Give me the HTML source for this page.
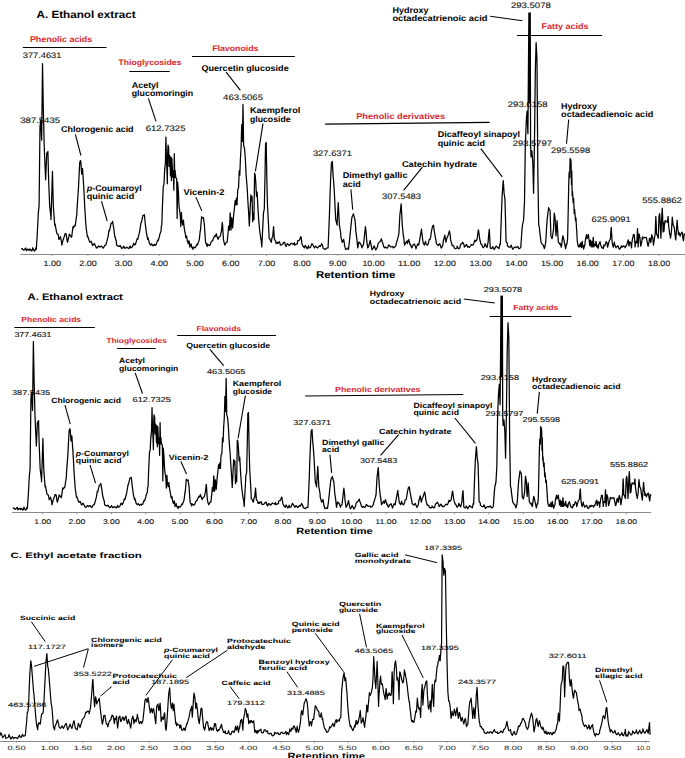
<!DOCTYPE html>
<html><head><meta charset="utf-8"><style>
html,body{margin:0;padding:0;background:#fff;}
svg{display:block;}
text{font-family:"Liberation Sans",sans-serif;text-rendering:geometricPrecision;}
</style></head><body>
<svg width="685" height="758" viewBox="0 0 685 758">
<rect width="685" height="758" fill="#fff"/>
<text x="36.50" y="17.60" font-size="10.4" font-weight="bold" fill="#000" textLength="99.10" lengthAdjust="spacingAndGlyphs">A. Ethanol extract</text>
<text x="29.90" y="42.20" font-size="8.2" font-weight="bold" fill="#dd1f2e" textLength="62.30" lengthAdjust="spacingAndGlyphs">Phenolic acids</text>
<line x1="22.80" y1="47.50" x2="106.50" y2="47.50" stroke="#000" stroke-width="1.0"/>
<text x="118.50" y="65.40" font-size="7.9" font-weight="bold" fill="#dd1f2e" textLength="62.80" lengthAdjust="spacingAndGlyphs">Thioglycosides</text>
<line x1="129.40" y1="71.50" x2="169.80" y2="71.50" stroke="#000" stroke-width="1.0"/>
<text x="212.20" y="51.30" font-size="8.0" font-weight="bold" fill="#dd1f2e" textLength="46.30" lengthAdjust="spacingAndGlyphs">Flavonoids</text>
<line x1="192.00" y1="56.50" x2="294.90" y2="56.50" stroke="#000" stroke-width="1.0"/>
<text x="356.20" y="119.30" font-size="8.2" font-weight="bold" fill="#dd1f2e" textLength="88.90" lengthAdjust="spacingAndGlyphs">Phenolic derivatives</text>
<line x1="325.10" y1="124.10" x2="489.60" y2="122.40" stroke="#000" stroke-width="1.1"/>
<text x="541.50" y="28.50" font-size="8.2" font-weight="bold" fill="#dd1f2e" textLength="47.00" lengthAdjust="spacingAndGlyphs">Fatty acids</text>
<line x1="517.00" y1="35.50" x2="602.10" y2="35.50" stroke="#000" stroke-width="1.0"/>
<text x="22.80" y="58.40" font-size="8.0" font-weight="normal" fill="#111" stroke="#111" stroke-width="0.1" textLength="38.60" lengthAdjust="spacingAndGlyphs">377.4631</text>
<text x="20.30" y="122.90" font-size="8.0" font-weight="normal" fill="#111" stroke="#111" stroke-width="0.1" textLength="39.70" lengthAdjust="spacingAndGlyphs">387.5435</text>
<text x="145.70" y="131.30" font-size="8.0" font-weight="normal" fill="#111" stroke="#111" stroke-width="0.1" textLength="39.80" lengthAdjust="spacingAndGlyphs">612.7325</text>
<text x="223.10" y="99.90" font-size="8.0" font-weight="normal" fill="#111" stroke="#111" stroke-width="0.1" textLength="39.90" lengthAdjust="spacingAndGlyphs">463.5065</text>
<text x="312.90" y="155.90" font-size="8.0" font-weight="normal" fill="#111" stroke="#111" stroke-width="0.1" textLength="39.10" lengthAdjust="spacingAndGlyphs">327.6371</text>
<text x="382.10" y="198.70" font-size="8.0" font-weight="normal" fill="#111" stroke="#111" stroke-width="0.1" textLength="38.90" lengthAdjust="spacingAndGlyphs">307.5483</text>
<text x="510.90" y="7.90" font-size="8.0" font-weight="normal" fill="#111" stroke="#111" stroke-width="0.1" textLength="39.90" lengthAdjust="spacingAndGlyphs">293.5078</text>
<text x="507.80" y="106.80" font-size="8.0" font-weight="normal" fill="#111" stroke="#111" stroke-width="0.1" textLength="39.80" lengthAdjust="spacingAndGlyphs">293.6158</text>
<text x="512.70" y="146.20" font-size="8.0" font-weight="normal" fill="#111" stroke="#111" stroke-width="0.1" textLength="39.40" lengthAdjust="spacingAndGlyphs">293.5797</text>
<text x="551.10" y="152.90" font-size="8.0" font-weight="normal" fill="#111" stroke="#111" stroke-width="0.1" textLength="39.10" lengthAdjust="spacingAndGlyphs">295.5598</text>
<text x="591.40" y="221.60" font-size="8.0" font-weight="normal" fill="#111" stroke="#111" stroke-width="0.1" textLength="39.40" lengthAdjust="spacingAndGlyphs">625.9091</text>
<text x="642.20" y="203.20" font-size="8.0" font-weight="normal" fill="#111" stroke="#111" stroke-width="0.1" textLength="39.70" lengthAdjust="spacingAndGlyphs">555.8862</text>
<text x="131.70" y="87.80" font-size="8.4" font-weight="bold" fill="#000" textLength="26.90" lengthAdjust="spacingAndGlyphs">Acetyl</text>
<text x="131.70" y="96.30" font-size="8.4" font-weight="bold" fill="#000" textLength="61.50" lengthAdjust="spacingAndGlyphs">glucomoringin</text>
<text x="201.40" y="71.10" font-size="8.4" font-weight="bold" fill="#000" textLength="87.30" lengthAdjust="spacingAndGlyphs">Quercetin glucoside</text>
<text x="249.90" y="113.00" font-size="8.4" font-weight="bold" fill="#000" textLength="50.40" lengthAdjust="spacingAndGlyphs">Kaempferol</text>
<text x="249.90" y="121.60" font-size="8.4" font-weight="bold" fill="#000" textLength="40.80" lengthAdjust="spacingAndGlyphs">glucoside</text>
<text x="61.10" y="131.80" font-size="8.4" font-weight="bold" fill="#000" textLength="72.50" lengthAdjust="spacingAndGlyphs">Chlorogenic acid</text>
<text x="183.40" y="194.80" font-size="8.4" font-weight="bold" fill="#000" textLength="41.10" lengthAdjust="spacingAndGlyphs">Vicenin-2</text>
<text x="342.70" y="178.10" font-size="8.4" font-weight="bold" fill="#000" textLength="64.80" lengthAdjust="spacingAndGlyphs">Dimethyl gallic</text>
<text x="342.70" y="186.50" font-size="8.4" font-weight="bold" fill="#000" textLength="18.00" lengthAdjust="spacingAndGlyphs">acid</text>
<text x="401.90" y="166.60" font-size="8.4" font-weight="bold" fill="#000" textLength="75.30" lengthAdjust="spacingAndGlyphs">Catechin hydrate</text>
<text x="437.80" y="137.30" font-size="8.4" font-weight="bold" fill="#000" textLength="82.20" lengthAdjust="spacingAndGlyphs">Dicaffeoyl sinapoyl</text>
<text x="437.80" y="145.70" font-size="8.4" font-weight="bold" fill="#000" textLength="47.30" lengthAdjust="spacingAndGlyphs">quinic acid</text>
<text x="392.40" y="13.10" font-size="8.4" font-weight="bold" fill="#000" textLength="36.00" lengthAdjust="spacingAndGlyphs">Hydroxy</text>
<text x="392.40" y="21.30" font-size="8.4" font-weight="bold" fill="#000" textLength="95.10" lengthAdjust="spacingAndGlyphs">octadecatrienoic acid</text>
<text x="561.10" y="108.50" font-size="8.4" font-weight="bold" fill="#000" textLength="35.90" lengthAdjust="spacingAndGlyphs">Hydroxy</text>
<text x="561.10" y="116.80" font-size="8.4" font-weight="bold" fill="#000" textLength="92.20" lengthAdjust="spacingAndGlyphs">octadecadienoic acid</text>
<text x="86.70" y="199.10" font-size="8.4" font-weight="bold" fill="#000" textLength="47.50" lengthAdjust="spacingAndGlyphs">quinic acid</text>
<text x="86.70" y="191.20" font-size="8.4" font-weight="bold" fill="#000" textLength="55.10" lengthAdjust="spacingAndGlyphs"><tspan font-style="italic">p</tspan>-Coumaroyl</text>
<line x1="148.40" y1="98.40" x2="156.00" y2="121.40" stroke="#000" stroke-width="1.1"/>
<line x1="226.10" y1="72.20" x2="240.40" y2="90.40" stroke="#000" stroke-width="1.1"/>
<line x1="263.00" y1="123.60" x2="255.40" y2="171.30" stroke="#000" stroke-width="1.1"/>
<line x1="75.40" y1="134.30" x2="80.90" y2="155.50" stroke="#000" stroke-width="1.1"/>
<line x1="101.50" y1="201.10" x2="107.20" y2="221.00" stroke="#000" stroke-width="1.1"/>
<line x1="195.90" y1="197.10" x2="201.80" y2="210.90" stroke="#000" stroke-width="1.1"/>
<line x1="350.90" y1="189.40" x2="352.70" y2="209.60" stroke="#000" stroke-width="1.1"/>
<line x1="422.40" y1="167.20" x2="403.60" y2="190.30" stroke="#000" stroke-width="1.1"/>
<line x1="480.80" y1="148.60" x2="502.30" y2="176.80" stroke="#000" stroke-width="1.1"/>
<line x1="490.10" y1="16.30" x2="522.40" y2="20.70" stroke="#000" stroke-width="1.1"/>
<line x1="568.70" y1="119.50" x2="566.50" y2="143.70" stroke="#000" stroke-width="1.1"/>
<line x1="20.50" y1="254.50" x2="685.00" y2="254.50" stroke="#8a8a8a" stroke-width="1.0"/>
<line x1="52.20" y1="254.00" x2="52.20" y2="255.80" stroke="#7a7a7a" stroke-width="0.8"/>
<text x="43.45" y="266.30" font-size="7.7" font-weight="normal" fill="#111" stroke="#111" stroke-width="0.1" textLength="17.50" lengthAdjust="spacingAndGlyphs">1.00</text>
<line x1="87.90" y1="254.00" x2="87.90" y2="255.80" stroke="#7a7a7a" stroke-width="0.8"/>
<text x="79.15" y="266.30" font-size="7.7" font-weight="normal" fill="#111" stroke="#111" stroke-width="0.1" textLength="17.50" lengthAdjust="spacingAndGlyphs">2.00</text>
<line x1="123.60" y1="254.00" x2="123.60" y2="255.80" stroke="#7a7a7a" stroke-width="0.8"/>
<text x="114.85" y="266.30" font-size="7.7" font-weight="normal" fill="#111" stroke="#111" stroke-width="0.1" textLength="17.50" lengthAdjust="spacingAndGlyphs">3.00</text>
<line x1="159.30" y1="254.00" x2="159.30" y2="255.80" stroke="#7a7a7a" stroke-width="0.8"/>
<text x="150.55" y="266.30" font-size="7.7" font-weight="normal" fill="#111" stroke="#111" stroke-width="0.1" textLength="17.50" lengthAdjust="spacingAndGlyphs">4.00</text>
<line x1="195.00" y1="254.00" x2="195.00" y2="255.80" stroke="#7a7a7a" stroke-width="0.8"/>
<text x="186.25" y="266.30" font-size="7.7" font-weight="normal" fill="#111" stroke="#111" stroke-width="0.1" textLength="17.50" lengthAdjust="spacingAndGlyphs">5.00</text>
<line x1="230.70" y1="254.00" x2="230.70" y2="255.80" stroke="#7a7a7a" stroke-width="0.8"/>
<text x="221.95" y="266.30" font-size="7.7" font-weight="normal" fill="#111" stroke="#111" stroke-width="0.1" textLength="17.50" lengthAdjust="spacingAndGlyphs">6.00</text>
<line x1="266.40" y1="254.00" x2="266.40" y2="255.80" stroke="#7a7a7a" stroke-width="0.8"/>
<text x="257.65" y="266.30" font-size="7.7" font-weight="normal" fill="#111" stroke="#111" stroke-width="0.1" textLength="17.50" lengthAdjust="spacingAndGlyphs">7.00</text>
<line x1="302.10" y1="254.00" x2="302.10" y2="255.80" stroke="#7a7a7a" stroke-width="0.8"/>
<text x="293.35" y="266.30" font-size="7.7" font-weight="normal" fill="#111" stroke="#111" stroke-width="0.1" textLength="17.50" lengthAdjust="spacingAndGlyphs">8.00</text>
<line x1="337.80" y1="254.00" x2="337.80" y2="255.80" stroke="#7a7a7a" stroke-width="0.8"/>
<text x="329.05" y="266.30" font-size="7.7" font-weight="normal" fill="#111" stroke="#111" stroke-width="0.1" textLength="17.50" lengthAdjust="spacingAndGlyphs">9.00</text>
<line x1="373.50" y1="254.00" x2="373.50" y2="255.80" stroke="#7a7a7a" stroke-width="0.8"/>
<text x="362.40" y="266.30" font-size="7.7" font-weight="normal" fill="#111" stroke="#111" stroke-width="0.1" textLength="22.20" lengthAdjust="spacingAndGlyphs">10.00</text>
<line x1="409.20" y1="254.00" x2="409.20" y2="255.80" stroke="#7a7a7a" stroke-width="0.8"/>
<text x="398.10" y="266.30" font-size="7.7" font-weight="normal" fill="#111" stroke="#111" stroke-width="0.1" textLength="22.20" lengthAdjust="spacingAndGlyphs">11.00</text>
<line x1="444.90" y1="254.00" x2="444.90" y2="255.80" stroke="#7a7a7a" stroke-width="0.8"/>
<text x="433.80" y="266.30" font-size="7.7" font-weight="normal" fill="#111" stroke="#111" stroke-width="0.1" textLength="22.20" lengthAdjust="spacingAndGlyphs">12.00</text>
<line x1="480.60" y1="254.00" x2="480.60" y2="255.80" stroke="#7a7a7a" stroke-width="0.8"/>
<text x="469.50" y="266.30" font-size="7.7" font-weight="normal" fill="#111" stroke="#111" stroke-width="0.1" textLength="22.20" lengthAdjust="spacingAndGlyphs">13.00</text>
<line x1="516.30" y1="254.00" x2="516.30" y2="255.80" stroke="#7a7a7a" stroke-width="0.8"/>
<text x="505.20" y="266.30" font-size="7.7" font-weight="normal" fill="#111" stroke="#111" stroke-width="0.1" textLength="22.20" lengthAdjust="spacingAndGlyphs">14.00</text>
<line x1="552.00" y1="254.00" x2="552.00" y2="255.80" stroke="#7a7a7a" stroke-width="0.8"/>
<text x="540.90" y="266.30" font-size="7.7" font-weight="normal" fill="#111" stroke="#111" stroke-width="0.1" textLength="22.20" lengthAdjust="spacingAndGlyphs">15.00</text>
<line x1="587.70" y1="254.00" x2="587.70" y2="255.80" stroke="#7a7a7a" stroke-width="0.8"/>
<text x="576.60" y="266.30" font-size="7.7" font-weight="normal" fill="#111" stroke="#111" stroke-width="0.1" textLength="22.20" lengthAdjust="spacingAndGlyphs">16.00</text>
<line x1="623.40" y1="254.00" x2="623.40" y2="255.80" stroke="#7a7a7a" stroke-width="0.8"/>
<text x="612.30" y="266.30" font-size="7.7" font-weight="normal" fill="#111" stroke="#111" stroke-width="0.1" textLength="22.20" lengthAdjust="spacingAndGlyphs">17.00</text>
<line x1="659.10" y1="254.00" x2="659.10" y2="255.80" stroke="#7a7a7a" stroke-width="0.8"/>
<text x="648.00" y="266.30" font-size="7.7" font-weight="normal" fill="#111" stroke="#111" stroke-width="0.1" textLength="22.20" lengthAdjust="spacingAndGlyphs">18.00</text>
<text x="316.00" y="277.60" font-size="10.0" font-weight="bold" fill="#000" textLength="79.30" lengthAdjust="spacingAndGlyphs">Retention time</text>
<polyline points="21.24,249.33 22.14,248.53 23.51,250.18 23.97,250.10 24.93,248.76 25.85,248.10 26.35,250.74 27.33,249.57 27.77,249.04 29.18,250.46 29.38,249.13 30.60,249.33 30.99,250.76 32.02,250.74 32.77,247.76 33.44,249.61 34.55,251.17 34.86,250.74 36.10,247.54 36.28,249.33 37.13,236.56 38.16,216.43 38.26,213.87 39.11,205.35 39.96,128.76 40.14,125.01 40.82,120.25 41.62,139.85 41.67,140.11 42.52,63.51 43.37,111.74 43.49,115.21 44.22,145.78 44.95,164.20 45.64,179.82 46.73,153.12 46.77,154.29 47.91,151.45 48.48,174.15 48.80,183.90 49.61,205.35 50.91,216.85 51.03,219.54 52.45,171.31 52.92,190.80 53.30,205.35 54.72,225.21 55.04,223.94 56.55,232.22 56.99,233.72 58.14,234.37 58.97,239.40 59.90,238.21 60.39,236.56 61.55,241.84 61.81,245.07 63.23,239.40 63.27,239.68 65.13,233.73 66.06,233.72 67.22,241.40 67.48,242.23 68.90,236.56 69.33,234.13 71.49,237.27 71.74,236.56 73.04,226.29 73.16,228.05 75.14,225.21 75.18,225.92 76.84,213.87 77.03,208.80 78.26,191.17 78.62,184.90 79.68,162.80 80.47,160.58 80.82,161.38 81.67,174.15 81.96,173.10 82.52,168.48 83.65,185.50 84.11,193.84 84.79,208.19 85.92,225.21 86.13,227.28 87.34,236.56 87.68,235.98 89.67,242.13 90.18,242.23 91.14,241.28 92.61,245.42 93.01,245.07 94.29,243.44 96.44,247.88 97.27,247.91 98.60,245.96 100.09,247.13 100.11,246.49 101.55,246.17 102.94,247.91 103.29,248.20 104.84,245.29 105.78,245.07 106.91,241.18 108.05,236.56 109.04,230.10 109.47,230.89 110.75,224.97 110.89,223.79 112.30,222.38 112.56,221.42 113.72,228.05 114.43,233.95 114.86,236.56 116.32,241.25 116.56,245.07 118.12,246.17 119.96,246.49 120.08,245.42 121.74,248.40 122.80,247.91 123.55,246.13 125.00,248.34 126.86,247.24 127.84,247.91 128.74,248.57 130.23,245.96 130.67,247.91 132.00,247.29 132.94,245.64 133.70,243.31 134.93,245.07 135.67,243.62 137.15,238.58 137.77,239.40 139.28,233.16 139.75,230.89 141.05,222.51 141.45,222.38 142.72,216.41 142.87,215.28 144.29,215.28 144.39,214.73 145.43,225.21 146.26,231.76 146.56,233.72 147.70,239.40 147.97,237.69 149.43,243.46 150.53,245.07 151.40,243.79 153.00,245.91 153.37,245.07 154.61,244.38 155.00,245.51 156.36,244.20 156.58,243.13 157.88,239.89 158.16,240.76 159.56,236.07 159.75,234.43 161.01,231.27 161.31,226.45 161.80,224.94 162.44,205.95 162.87,195.81 163.23,186.96 164.02,183.80 164.78,167.58 164.81,169.56 165.44,161.65 165.92,137.12 166.39,158.48 166.55,161.80 166.87,167.97 167.34,183.80 167.66,153.73 168.07,145.07 168.13,145.82 168.61,147.41 169.08,166.39 169.56,155.32 169.65,157.42 170.03,161.65 170.51,175.89 170.98,156.90 171.46,180.63 171.69,168.46 171.93,158.48 172.41,169.56 172.88,177.47 173.34,172.24 173.35,171.14 173.83,190.13 174.30,153.73 174.78,177.47 175.24,170.55 175.25,172.72 175.89,177.47 176.68,179.05 176.93,199.94 177.15,218.61 177.63,182.22 178.26,190.13 178.58,195.23 178.73,201.20 179.21,207.53 179.84,212.28 180.21,215.11 180.32,215.44 180.79,226.52 181.42,212.28 181.90,221.77 181.95,220.47 182.69,224.94 183.48,220.19 183.69,223.21 184.27,228.10 185.06,232.85 185.24,233.26 185.85,237.59 186.65,236.01 187.36,241.21 187.44,240.76 188.23,243.92 189.02,240.76 189.51,243.14 189.81,247.09 191.08,243.92 191.63,246.89 192.18,247.88 193.09,249.33 193.23,246.98 195.28,247.83 197.09,244.09 197.34,245.07 198.77,241.21 199.33,239.40 200.26,230.50 200.46,230.89 201.60,216.70 201.91,217.87 203.01,218.12 203.38,217.44 204.43,225.21 205.32,239.52 205.57,242.23 207.27,246.49 207.41,243.90 209.26,245.51 210.11,245.07 211.24,241.81 212.90,240.19 212.94,239.40 214.71,235.69 215.21,236.56 216.35,233.72 216.83,235.97 218.05,239.40 218.52,237.57 220.04,236.56 220.58,234.90 221.45,230.89 222.30,222.38 222.58,225.12 223.44,239.40 224.16,242.84 224.86,245.07 226.19,242.42 227.13,242.23 228.20,231.56 228.63,225.87 229.48,230.09 230.11,213.21 230.22,213.02 230.96,230.09 231.67,220.10 231.80,217.43 232.64,227.98 233.49,217.43 233.73,214.31 234.33,208.98 235.18,200.54 235.36,202.05 235.81,204.76 236.44,198.43 237.08,204.76 237.18,200.80 237.71,189.99 238.55,187.88 238.96,177.83 239.19,170.99 239.82,175.21 240.40,158.94 240.45,158.32 241.09,147.77 241.72,124.55 241.93,130.39 242.35,141.44 242.99,104.50 243.42,130.21 243.62,145.66 244.46,147.77 245.31,158.32 245.48,161.81 246.15,175.21 247.00,185.77 247.28,189.42 247.84,200.54 248.69,213.21 248.95,218.79 249.32,225.87 249.95,213.21 250.80,196.32 250.85,194.83 251.43,200.54 252.06,196.32 252.55,216.08 252.70,221.65 253.33,213.21 253.96,219.54 254.23,199.15 254.60,173.10 255.23,175.21 255.86,183.65 256.07,188.53 256.50,196.32 257.13,192.10 257.78,204.37 257.97,208.98 258.82,221.65 259.35,227.37 259.66,230.09 260.72,238.54 261.23,240.33 261.77,246.98 262.62,230.09 262.94,224.48 263.46,213.21 264.31,208.98 264.83,183.05 264.94,179.43 265.57,143.55 266.21,142.49 266.54,162.33 266.84,179.43 267.47,204.76 268.11,217.43 268.48,223.46 269.16,238.54 270.18,239.40 270.42,240.49 271.31,242.23 272.04,237.57 272.73,236.56 273.58,226.63 273.98,232.68 274.43,239.40 275.73,241.11 276.13,243.65 277.55,242.23 277.80,243.46 279.51,241.67 280.39,245.07 281.52,244.78 283.23,243.65 283.29,242.70 284.65,242.23 285.32,244.95 286.06,246.49 287.40,243.53 288.90,245.07 289.32,245.63 291.16,243.09 291.74,243.65 293.03,244.30 294.57,242.81 294.57,245.07 296.04,244.43 297.41,243.65 297.55,240.91 299.12,240.47 299.68,239.40 300.82,236.56 301.17,237.88 301.95,243.65 303.22,246.47 304.50,247.91 305.26,245.28 307.11,248.75 308.58,245.67 308.76,247.91 310.39,247.57 311.91,243.61 313.01,245.07 314.02,247.14 314.43,247.91 315.69,246.09 317.27,247.91 317.73,247.93 319.30,245.74 320.11,246.49 321.18,245.13 321.52,243.65 322.90,246.39 322.94,247.91 324.63,249.12 325.78,249.33 326.37,248.15 328.05,247.91 328.17,246.00 329.47,213.87 329.91,198.44 330.60,179.82 331.45,162.80 331.46,163.51 332.30,161.38 333.16,176.99 333.45,178.60 334.29,191.17 335.26,211.09 335.71,219.54 337.13,225.21 337.16,221.97 338.26,202.52 338.71,211.60 339.40,225.21 340.69,233.00 340.82,236.56 342.23,242.23 342.50,242.16 343.65,239.40 344.46,243.76 344.50,245.07 345.64,249.33 346.09,249.54 347.95,248.04 348.48,249.33 349.56,240.27 349.89,236.56 351.69,219.10 352.09,216.70 353.51,213.87 353.64,214.80 354.93,219.54 355.69,227.84 355.78,230.89 356.91,239.40 357.32,243.71 357.77,247.91 358.78,242.22 359.18,242.23 360.50,243.73 360.60,243.65 362.02,247.91 362.19,246.25 363.44,245.07 364.19,238.23 365.43,226.63 366.35,235.35 366.56,239.40 367.70,247.91 368.22,247.35 369.11,245.07 370.26,240.43 370.53,242.23 371.95,249.33 372.10,249.68 373.37,247.91 374.06,245.82 375.79,249.89 376.21,249.33 377.62,246.49 377.92,244.00 379.04,242.23 379.52,242.00 380.46,240.82 381.48,238.77 381.88,240.82 383.30,245.07 383.61,246.59 384.72,247.91 385.22,246.88 386.85,248.10 387.55,247.91 388.80,244.85 390.39,246.49 390.89,247.00 392.95,246.48 393.23,247.91 394.69,247.21 396.06,245.07 396.20,243.72 397.48,239.40 398.24,236.69 398.90,233.72 399.93,213.82 400.04,213.87 401.17,203.94 401.86,216.86 402.30,225.21 403.44,236.56 403.54,235.77 404.57,245.07 405.33,243.78 405.99,242.23 407.19,240.80 407.41,243.65 408.83,239.40 408.91,240.30 410.25,245.07 410.44,244.24 411.67,247.91 412.36,246.64 413.09,245.07 414.44,243.88 415.92,247.91 415.95,248.87 417.66,243.92 418.76,245.07 419.64,240.09 420.18,236.56 421.57,229.00 421.60,230.89 423.01,242.23 423.59,243.66 424.43,245.07 425.57,241.28 425.85,243.65 427.27,245.07 427.50,245.18 428.69,242.23 429.02,239.91 430.11,239.40 430.71,236.53 431.52,230.89 432.64,225.88 433.51,225.21 434.21,230.55 435.21,236.56 436.10,241.13 436.35,243.65 438.18,245.49 438.62,245.07 439.71,243.58 441.26,248.06 441.45,247.91 442.87,245.07 443.21,241.48 444.86,235.14 445.05,237.04 445.99,242.23 446.82,238.18 447.70,236.56 448.39,234.32 449.40,230.89 450.35,235.79 450.53,239.40 452.18,245.66 452.23,245.07 453.88,246.23 454.22,247.91 455.59,248.82 457.06,247.91 457.06,246.22 458.68,248.72 459.89,247.91 460.37,245.14 461.31,243.65 462.10,243.43 462.73,242.23 464.10,245.06 464.36,247.23 466.15,244.80 466.35,244.40 467.77,247.23 467.79,246.39 469.31,247.28 470.60,245.82 471.27,244.46 472.85,245.13 473.44,244.40 474.82,240.08 475.43,241.56 476.80,239.89 477.13,238.72 478.35,229.95 478.55,230.21 479.68,238.72 479.93,240.25 481.10,244.40 481.77,244.47 482.80,247.23 483.39,247.63 484.79,245.82 484.86,243.55 486.77,247.23 486.94,247.57 488.19,241.56 488.65,234.80 489.33,229.36 490.18,247.23 490.51,248.18 491.88,248.65 492.66,246.58 494.31,249.56 494.72,248.65 496.10,246.07 497.55,247.23 498.06,247.75 498.97,248.65 500.06,243.37 500.39,244.40 501.24,218.87 501.85,203.09 502.09,196.17 503.23,180.57 503.62,185.50 504.08,193.33 504.93,199.01 505.45,217.14 505.50,218.87 506.06,241.56 507.25,243.12 507.48,245.82 509.01,247.17 510.32,247.23 511.14,245.14 512.67,249.24 513.16,248.65 514.56,247.21 515.99,247.23 516.26,247.61 517.76,246.36 518.83,248.65 519.87,248.25 520.82,247.23 521.93,230.23 522.52,224.54 523.47,220.67 523.65,218.87 524.50,201.84 525.34,143.23 525.35,145.11 526.21,122.41 527.06,111.06 527.30,118.32 527.91,133.76 528.90,12.91 528.99,25.73 529.41,102.55 529.78,20.28 530.23,12.91 530.60,145.11 531.03,156.45 531.10,156.90 531.88,150.78 532.73,162.13 532.85,164.38 533.58,193.33 534.43,145.11 534.64,127.80 535.28,74.18 536.11,42.73 536.13,42.70 536.99,60.00 537.70,154.95 537.84,173.48 538.69,224.54 539.49,227.82 539.54,230.21 540.96,241.56 541.32,242.73 542.38,244.40 543.23,244.96 544.36,248.65 545.00,246.24 545.78,241.56 546.73,225.31 547.20,218.87 548.62,207.52 548.82,208.68 550.04,210.35 550.52,223.61 550.89,235.89 552.02,238.72 552.35,237.41 553.44,230.21 553.95,219.44 554.29,213.19 555.14,218.87 555.54,227.59 555.99,235.89 557.08,220.70 557.13,221.70 558.26,241.56 558.66,242.44 559.96,244.40 560.22,243.44 561.38,247.23 561.78,244.05 562.80,235.89 563.30,236.91 564.22,241.56 565.10,246.01 565.64,248.65 566.55,243.90 566.93,244.18 567.62,238.64 568.29,207.26 568.31,205.40 568.73,184.63 569.14,172.16 569.70,177.70 569.76,173.03 570.11,158.31 570.53,163.85 570.80,159.70 571.08,162.47 571.49,184.31 571.50,184.63 571.77,170.78 572.19,195.71 572.47,191.55 573.16,202.63 573.57,198.48 573.62,198.51 574.27,213.71 574.68,209.56 575.13,216.07 575.51,220.64 575.93,217.87 576.62,230.33 576.69,229.52 577.31,241.41 578.01,245.57 578.38,246.45 578.70,246.95 579.39,245.57 579.86,244.34 580.08,246.95 580.78,242.80 581.47,246.95 581.50,247.56 582.16,241.41 582.85,246.95 583.27,245.62 583.55,249.03 584.24,246.95 584.93,244.46 584.93,244.18 585.62,238.64 586.32,235.87 586.56,234.50 587.01,238.64 587.70,237.26 588.39,234.49 588.45,235.32 589.09,240.03 589.78,245.57 589.96,242.06 590.47,240.03 591.16,246.95 591.86,241.41 592.10,243.96 592.55,246.95 593.24,237.26 593.54,240.74 593.93,246.95 594.63,244.18 595.04,245.20 595.32,245.57 596.01,241.41 596.51,244.67 596.70,246.95 597.40,245.57 598.09,248.34 598.42,247.28 598.78,244.18 600.01,241.66 600.46,244.40 601.79,247.90 601.88,247.23 603.30,248.65 603.89,244.86 604.72,245.82 605.36,244.22 606.13,241.56 607.23,243.33 607.55,247.23 608.74,242.81 608.97,241.56 610.39,238.72 610.79,232.56 611.24,227.38 612.09,241.56 612.51,243.99 613.23,247.23 614.44,242.23 614.65,244.40 616.00,247.89 616.06,247.23 617.97,245.80 618.90,248.65 619.81,249.17 621.51,245.85 621.74,247.23 623.12,246.67 623.16,245.82 624.90,246.49 625.00,247.79 626.31,245.17 626.46,245.62 627.19,243.42 628.06,240.35 628.34,240.02 628.94,246.04 629.82,241.66 630.06,242.42 630.69,242.54 631.57,247.79 631.61,245.24 632.44,239.04 633.07,236.41 633.32,234.66 634.19,234.66 635.05,244.63 635.07,246.92 635.95,241.66 636.56,242.53 636.82,242.54 637.52,228.53 638.13,246.92 638.61,237.81 639.01,233.78 639.89,237.29 640.68,246.17 640.76,246.04 641.64,242.54 642.45,236.79 642.51,239.04 643.39,238.16 644.26,237.29 644.41,237.69 645.58,237.72 646.12,237.21 646.45,238.16 647.33,242.54 647.85,245.62 648.20,246.04 649.08,241.66 649.36,238.71 649.96,238.16 650.83,242.54 650.88,242.16 651.71,234.66 652.58,237.29 652.79,238.02 653.46,245.17 654.27,239.68 654.33,239.04 655.21,233.78 655.82,216.27 656.17,223.08 656.52,233.78 657.40,235.53 657.62,236.43 658.27,238.16 658.98,216.27 659.59,213.64 659.75,214.88 660.03,219.77 660.46,229.40 660.90,238.16 661.34,225.03 661.60,220.27 661.78,216.27 662.22,208.39 662.65,216.27 663.09,232.03 663.53,223.27 663.60,222.69 663.97,231.16 664.40,225.03 665.11,220.65 665.61,221.93 665.72,221.52 666.59,221.09 667.19,220.97 667.47,222.40 668.08,216.27 668.68,226.14 668.78,226.78 669.66,233.78 670.20,235.83 670.53,238.16 671.41,232.03 672.29,217.15 672.34,217.84 673.16,225.03 674.04,226.78 674.42,229.05 674.91,233.78 675.79,239.91 676.20,234.01 676.49,229.40 677.10,220.21 677.80,229.40 678.23,231.19 678.42,234.66 679.29,232.91 680.14,236.24 680.17,235.53 681.04,233.78 681.92,232.03 682.20,232.39 682.79,237.29 683.49,240.79 684.08,234.57 684.11,233.78 685.07,234.66" fill="none" stroke="#000" stroke-width="1.25" stroke-linejoin="round"/>
<text x="27.58" y="300.22" font-size="9.35" font-weight="bold" fill="#000" textLength="95.29" lengthAdjust="spacingAndGlyphs">A. Ethanol extract</text>
<text x="21.23" y="322.34" font-size="7.37" font-weight="bold" fill="#dd1f2e" textLength="59.91" lengthAdjust="spacingAndGlyphs">Phenolic acids</text>
<line x1="14.40" y1="327.50" x2="94.89" y2="327.50" stroke="#000" stroke-width="1.0"/>
<text x="106.43" y="343.19" font-size="7.1" font-weight="bold" fill="#dd1f2e" textLength="60.39" lengthAdjust="spacingAndGlyphs">Thioglycosides</text>
<line x1="116.91" y1="348.50" x2="155.76" y2="348.50" stroke="#000" stroke-width="1.0"/>
<text x="196.53" y="330.52" font-size="7.19" font-weight="bold" fill="#dd1f2e" textLength="44.52" lengthAdjust="spacingAndGlyphs">Flavonoids</text>
<line x1="177.11" y1="335.50" x2="276.06" y2="335.50" stroke="#000" stroke-width="1.0"/>
<text x="335.00" y="391.65" font-size="7.37" font-weight="bold" fill="#dd1f2e" textLength="85.49" lengthAdjust="spacingAndGlyphs">Phenolic derivatives</text>
<line x1="305.10" y1="395.97" x2="463.28" y2="394.44" stroke="#000" stroke-width="1.1"/>
<text x="513.19" y="310.02" font-size="7.37" font-weight="bold" fill="#dd1f2e" textLength="45.20" lengthAdjust="spacingAndGlyphs">Fatty acids</text>
<line x1="489.63" y1="316.50" x2="571.46" y2="316.50" stroke="#000" stroke-width="1.0"/>
<text x="14.40" y="336.90" font-size="7.19" font-weight="normal" fill="#111" stroke="#111" stroke-width="0.1" textLength="37.12" lengthAdjust="spacingAndGlyphs">377.4631</text>
<text x="12.00" y="394.89" font-size="7.19" font-weight="normal" fill="#111" stroke="#111" stroke-width="0.1" textLength="38.18" lengthAdjust="spacingAndGlyphs">387.5435</text>
<text x="132.59" y="402.44" font-size="7.19" font-weight="normal" fill="#111" stroke="#111" stroke-width="0.1" textLength="38.27" lengthAdjust="spacingAndGlyphs">612.7325</text>
<text x="207.01" y="374.21" font-size="7.19" font-weight="normal" fill="#111" stroke="#111" stroke-width="0.1" textLength="38.37" lengthAdjust="spacingAndGlyphs">463.5065</text>
<text x="293.36" y="424.55" font-size="7.19" font-weight="normal" fill="#111" stroke="#111" stroke-width="0.1" textLength="37.60" lengthAdjust="spacingAndGlyphs">327.6371</text>
<text x="359.91" y="463.03" font-size="7.19" font-weight="normal" fill="#111" stroke="#111" stroke-width="0.1" textLength="37.41" lengthAdjust="spacingAndGlyphs">307.5483</text>
<text x="483.76" y="291.50" font-size="7.19" font-weight="normal" fill="#111" stroke="#111" stroke-width="0.1" textLength="38.37" lengthAdjust="spacingAndGlyphs">293.5078</text>
<text x="480.78" y="380.41" font-size="7.19" font-weight="normal" fill="#111" stroke="#111" stroke-width="0.1" textLength="38.27" lengthAdjust="spacingAndGlyphs">293.6158</text>
<text x="485.49" y="415.83" font-size="7.19" font-weight="normal" fill="#111" stroke="#111" stroke-width="0.1" textLength="37.89" lengthAdjust="spacingAndGlyphs">293.5797</text>
<text x="522.42" y="421.86" font-size="7.19" font-weight="normal" fill="#111" stroke="#111" stroke-width="0.1" textLength="37.60" lengthAdjust="spacingAndGlyphs">295.5598</text>
<text x="561.17" y="483.62" font-size="7.19" font-weight="normal" fill="#111" stroke="#111" stroke-width="0.1" textLength="37.89" lengthAdjust="spacingAndGlyphs">625.9091</text>
<text x="610.02" y="467.08" font-size="7.19" font-weight="normal" fill="#111" stroke="#111" stroke-width="0.1" textLength="38.18" lengthAdjust="spacingAndGlyphs">555.8862</text>
<text x="119.12" y="363.33" font-size="7.55" font-weight="bold" fill="#000" textLength="25.87" lengthAdjust="spacingAndGlyphs">Acetyl</text>
<text x="119.12" y="370.97" font-size="7.55" font-weight="bold" fill="#000" textLength="59.14" lengthAdjust="spacingAndGlyphs">glucomoringin</text>
<text x="186.15" y="348.32" font-size="7.55" font-weight="bold" fill="#000" textLength="83.95" lengthAdjust="spacingAndGlyphs">Quercetin glucoside</text>
<text x="232.78" y="385.99" font-size="7.55" font-weight="bold" fill="#000" textLength="48.46" lengthAdjust="spacingAndGlyphs">Kaempferol</text>
<text x="232.78" y="393.72" font-size="7.55" font-weight="bold" fill="#000" textLength="39.23" lengthAdjust="spacingAndGlyphs">glucoside</text>
<text x="51.23" y="402.89" font-size="7.55" font-weight="bold" fill="#000" textLength="69.72" lengthAdjust="spacingAndGlyphs">Chlorogenic acid</text>
<text x="168.84" y="459.53" font-size="7.55" font-weight="bold" fill="#000" textLength="39.52" lengthAdjust="spacingAndGlyphs">Vicenin-2</text>
<text x="322.02" y="444.51" font-size="7.55" font-weight="bold" fill="#000" textLength="62.31" lengthAdjust="spacingAndGlyphs">Dimethyl gallic</text>
<text x="322.02" y="452.06" font-size="7.55" font-weight="bold" fill="#000" textLength="17.31" lengthAdjust="spacingAndGlyphs">acid</text>
<text x="378.95" y="434.17" font-size="7.55" font-weight="bold" fill="#000" textLength="72.41" lengthAdjust="spacingAndGlyphs">Catechin hydrate</text>
<text x="413.47" y="407.83" font-size="7.55" font-weight="bold" fill="#000" textLength="79.04" lengthAdjust="spacingAndGlyphs">Dicaffeoyl sinapoyl</text>
<text x="413.47" y="415.38" font-size="7.55" font-weight="bold" fill="#000" textLength="45.48" lengthAdjust="spacingAndGlyphs">quinic acid</text>
<text x="369.81" y="296.18" font-size="7.55" font-weight="bold" fill="#000" textLength="34.62" lengthAdjust="spacingAndGlyphs">Hydroxy</text>
<text x="369.81" y="303.55" font-size="7.55" font-weight="bold" fill="#000" textLength="91.45" lengthAdjust="spacingAndGlyphs">octadecatrienoic acid</text>
<text x="532.03" y="381.94" font-size="7.55" font-weight="bold" fill="#000" textLength="34.52" lengthAdjust="spacingAndGlyphs">Hydroxy</text>
<text x="532.03" y="389.40" font-size="7.55" font-weight="bold" fill="#000" textLength="88.66" lengthAdjust="spacingAndGlyphs">octadecadienoic acid</text>
<text x="75.85" y="463.39" font-size="7.55" font-weight="bold" fill="#000" textLength="45.68" lengthAdjust="spacingAndGlyphs">quinic acid</text>
<text x="75.85" y="456.29" font-size="7.55" font-weight="bold" fill="#000" textLength="52.98" lengthAdjust="spacingAndGlyphs"><tspan font-style="italic">p</tspan>-Coumaroyl</text>
<line x1="135.18" y1="372.86" x2="142.49" y2="393.54" stroke="#000" stroke-width="1.1"/>
<line x1="209.90" y1="349.31" x2="223.65" y2="365.67" stroke="#000" stroke-width="1.1"/>
<line x1="245.38" y1="395.52" x2="238.07" y2="438.40" stroke="#000" stroke-width="1.1"/>
<line x1="64.98" y1="405.14" x2="70.27" y2="424.19" stroke="#000" stroke-width="1.1"/>
<line x1="90.08" y1="465.19" x2="95.56" y2="483.08" stroke="#000" stroke-width="1.1"/>
<line x1="180.86" y1="461.59" x2="186.53" y2="474.00" stroke="#000" stroke-width="1.1"/>
<line x1="329.91" y1="454.67" x2="331.64" y2="472.83" stroke="#000" stroke-width="1.1"/>
<line x1="398.66" y1="434.71" x2="380.58" y2="455.48" stroke="#000" stroke-width="1.1"/>
<line x1="454.82" y1="417.99" x2="475.49" y2="443.34" stroke="#000" stroke-width="1.1"/>
<line x1="463.76" y1="299.05" x2="494.82" y2="303.01" stroke="#000" stroke-width="1.1"/>
<line x1="539.34" y1="391.83" x2="537.23" y2="413.59" stroke="#000" stroke-width="1.1"/>
<line x1="12.19" y1="512.50" x2="651.18" y2="512.50" stroke="#8a8a8a" stroke-width="1.0"/>
<line x1="42.68" y1="512.75" x2="42.68" y2="514.36" stroke="#7a7a7a" stroke-width="0.8"/>
<text x="34.26" y="523.80" font-size="6.92" font-weight="normal" fill="#111" stroke="#111" stroke-width="0.1" textLength="16.83" lengthAdjust="spacingAndGlyphs">1.00</text>
<line x1="77.00" y1="512.75" x2="77.00" y2="514.36" stroke="#7a7a7a" stroke-width="0.8"/>
<text x="68.59" y="523.80" font-size="6.92" font-weight="normal" fill="#111" stroke="#111" stroke-width="0.1" textLength="16.83" lengthAdjust="spacingAndGlyphs">2.00</text>
<line x1="111.33" y1="512.75" x2="111.33" y2="514.36" stroke="#7a7a7a" stroke-width="0.8"/>
<text x="102.92" y="523.80" font-size="6.92" font-weight="normal" fill="#111" stroke="#111" stroke-width="0.1" textLength="16.83" lengthAdjust="spacingAndGlyphs">3.00</text>
<line x1="145.66" y1="512.75" x2="145.66" y2="514.36" stroke="#7a7a7a" stroke-width="0.8"/>
<text x="137.25" y="523.80" font-size="6.92" font-weight="normal" fill="#111" stroke="#111" stroke-width="0.1" textLength="16.83" lengthAdjust="spacingAndGlyphs">4.00</text>
<line x1="179.99" y1="512.75" x2="179.99" y2="514.36" stroke="#7a7a7a" stroke-width="0.8"/>
<text x="171.58" y="523.80" font-size="6.92" font-weight="normal" fill="#111" stroke="#111" stroke-width="0.1" textLength="16.83" lengthAdjust="spacingAndGlyphs">5.00</text>
<line x1="214.32" y1="512.75" x2="214.32" y2="514.36" stroke="#7a7a7a" stroke-width="0.8"/>
<text x="205.91" y="523.80" font-size="6.92" font-weight="normal" fill="#111" stroke="#111" stroke-width="0.1" textLength="16.83" lengthAdjust="spacingAndGlyphs">6.00</text>
<line x1="248.65" y1="512.75" x2="248.65" y2="514.36" stroke="#7a7a7a" stroke-width="0.8"/>
<text x="240.24" y="523.80" font-size="6.92" font-weight="normal" fill="#111" stroke="#111" stroke-width="0.1" textLength="16.83" lengthAdjust="spacingAndGlyphs">7.00</text>
<line x1="282.98" y1="512.75" x2="282.98" y2="514.36" stroke="#7a7a7a" stroke-width="0.8"/>
<text x="274.57" y="523.80" font-size="6.92" font-weight="normal" fill="#111" stroke="#111" stroke-width="0.1" textLength="16.83" lengthAdjust="spacingAndGlyphs">8.00</text>
<line x1="317.31" y1="512.75" x2="317.31" y2="514.36" stroke="#7a7a7a" stroke-width="0.8"/>
<text x="308.89" y="523.80" font-size="6.92" font-weight="normal" fill="#111" stroke="#111" stroke-width="0.1" textLength="16.83" lengthAdjust="spacingAndGlyphs">9.00</text>
<line x1="351.64" y1="512.75" x2="351.64" y2="514.36" stroke="#7a7a7a" stroke-width="0.8"/>
<text x="340.96" y="523.80" font-size="6.92" font-weight="normal" fill="#111" stroke="#111" stroke-width="0.1" textLength="21.35" lengthAdjust="spacingAndGlyphs">10.00</text>
<line x1="385.97" y1="512.75" x2="385.97" y2="514.36" stroke="#7a7a7a" stroke-width="0.8"/>
<text x="375.29" y="523.80" font-size="6.92" font-weight="normal" fill="#111" stroke="#111" stroke-width="0.1" textLength="21.35" lengthAdjust="spacingAndGlyphs">11.00</text>
<line x1="420.30" y1="512.75" x2="420.30" y2="514.36" stroke="#7a7a7a" stroke-width="0.8"/>
<text x="409.62" y="523.80" font-size="6.92" font-weight="normal" fill="#111" stroke="#111" stroke-width="0.1" textLength="21.35" lengthAdjust="spacingAndGlyphs">12.00</text>
<line x1="454.62" y1="512.75" x2="454.62" y2="514.36" stroke="#7a7a7a" stroke-width="0.8"/>
<text x="443.95" y="523.80" font-size="6.92" font-weight="normal" fill="#111" stroke="#111" stroke-width="0.1" textLength="21.35" lengthAdjust="spacingAndGlyphs">13.00</text>
<line x1="488.95" y1="512.75" x2="488.95" y2="514.36" stroke="#7a7a7a" stroke-width="0.8"/>
<text x="478.28" y="523.80" font-size="6.92" font-weight="normal" fill="#111" stroke="#111" stroke-width="0.1" textLength="21.35" lengthAdjust="spacingAndGlyphs">14.00</text>
<line x1="523.28" y1="512.75" x2="523.28" y2="514.36" stroke="#7a7a7a" stroke-width="0.8"/>
<text x="512.61" y="523.80" font-size="6.92" font-weight="normal" fill="#111" stroke="#111" stroke-width="0.1" textLength="21.35" lengthAdjust="spacingAndGlyphs">15.00</text>
<line x1="557.61" y1="512.75" x2="557.61" y2="514.36" stroke="#7a7a7a" stroke-width="0.8"/>
<text x="546.94" y="523.80" font-size="6.92" font-weight="normal" fill="#111" stroke="#111" stroke-width="0.1" textLength="21.35" lengthAdjust="spacingAndGlyphs">16.00</text>
<line x1="591.94" y1="512.75" x2="591.94" y2="514.36" stroke="#7a7a7a" stroke-width="0.8"/>
<text x="581.27" y="523.80" font-size="6.92" font-weight="normal" fill="#111" stroke="#111" stroke-width="0.1" textLength="21.35" lengthAdjust="spacingAndGlyphs">17.00</text>
<line x1="626.27" y1="512.75" x2="626.27" y2="514.36" stroke="#7a7a7a" stroke-width="0.8"/>
<text x="615.60" y="523.80" font-size="6.92" font-weight="normal" fill="#111" stroke="#111" stroke-width="0.1" textLength="21.35" lengthAdjust="spacingAndGlyphs">18.00</text>
<text x="296.35" y="533.96" font-size="8.99" font-weight="bold" fill="#000" textLength="76.25" lengthAdjust="spacingAndGlyphs">Retention time</text>
<polyline points="12.91,508.54 13.77,507.83 15.09,509.31 15.53,509.24 16.45,508.03 17.34,507.44 17.82,509.82 18.77,508.77 19.18,508.29 20.54,509.56 20.73,508.37 21.91,508.54 22.28,509.83 23.27,509.82 23.99,507.14 24.64,508.80 25.70,510.20 26.00,509.82 27.19,506.94 27.36,508.54 28.18,497.07 29.18,478.97 29.27,476.66 30.09,469.01 30.91,400.15 31.07,396.78 31.73,392.50 32.50,410.12 32.55,410.36 33.37,341.50 34.18,384.85 34.30,387.97 35.00,415.46 35.70,432.01 36.37,446.06 37.42,422.06 37.46,423.11 38.55,420.56 39.09,440.96 39.41,449.73 40.18,469.01 41.43,479.35 41.55,481.77 42.91,438.41 43.37,455.93 43.73,469.01 45.10,486.87 45.40,485.72 46.85,493.16 47.28,494.52 48.39,495.10 49.19,499.62 50.08,498.55 50.55,497.07 51.67,501.82 51.92,504.72 53.28,499.62 53.32,499.87 55.11,494.52 56.01,494.52 57.12,501.42 57.37,502.17 58.73,497.07 59.15,494.88 61.22,497.70 61.46,497.07 62.72,487.83 62.83,489.42 64.74,486.87 64.77,487.51 66.37,476.66 66.55,472.11 67.74,456.26 68.08,450.63 69.10,430.76 69.86,428.76 70.19,429.48 71.01,440.96 71.29,440.02 71.83,435.86 72.92,451.16 73.36,458.67 74.01,471.56 75.10,486.87 75.30,488.73 76.47,497.07 76.79,496.55 78.71,502.08 79.19,502.17 80.12,501.31 81.54,505.04 81.92,504.72 83.15,503.25 85.21,507.25 86.01,507.27 87.29,505.52 88.73,506.57 88.74,505.99 90.13,505.71 91.47,507.27 91.80,507.54 93.29,504.92 94.20,504.72 95.28,501.22 96.38,497.07 97.33,491.26 97.74,491.97 98.98,486.65 99.11,485.59 100.47,484.32 100.72,483.46 101.84,489.42 102.52,494.72 102.93,497.07 104.33,501.29 104.56,504.72 106.07,505.71 107.84,505.99 107.95,505.03 109.54,507.71 110.57,507.27 111.29,505.67 112.68,507.66 114.47,506.66 115.41,507.27 116.28,507.87 117.71,505.52 118.14,507.27 119.41,506.72 120.32,505.23 121.04,503.13 122.23,504.72 122.94,503.41 124.36,498.88 124.96,499.62 126.42,494.01 126.87,491.97 128.12,484.44 128.50,484.32 129.72,478.96 129.87,477.94 131.23,477.94 131.32,477.44 132.32,486.87 133.12,492.76 133.41,494.52 134.50,499.62 134.77,498.09 136.17,503.27 137.23,504.72 138.06,503.57 139.60,505.48 139.96,504.72 141.15,504.10 141.53,505.11 142.84,503.93 143.05,502.98 144.29,500.06 144.57,500.84 145.91,496.63 146.09,495.15 147.31,492.31 147.60,487.97 148.07,486.62 148.68,469.55 149.10,460.44 149.44,452.48 150.20,449.63 150.93,435.05 150.96,436.83 151.57,429.72 152.03,407.67 152.48,426.87 152.63,429.86 152.94,435.41 153.40,449.63 153.70,422.61 154.10,414.81 154.16,415.49 154.61,416.92 155.07,433.99 155.53,424.03 155.62,425.92 155.98,429.72 156.44,442.52 156.90,425.45 157.35,446.79 157.58,435.84 157.81,426.87 158.26,436.83 158.72,443.94 159.16,439.24 159.18,438.25 159.63,455.32 160.09,422.61 160.55,443.94 160.99,437.73 161.00,439.68 161.61,443.94 162.37,445.37 162.61,464.15 162.83,480.93 163.29,448.21 163.89,455.32 164.20,459.91 164.35,465.28 164.81,470.97 165.42,475.24 165.77,477.78 165.87,478.08 166.33,488.04 166.94,475.24 167.39,483.77 167.44,482.61 168.15,486.62 168.92,482.35 169.11,485.07 169.68,489.46 170.44,493.73 170.61,494.10 171.20,498.00 171.96,496.58 172.64,501.25 172.72,500.84 173.48,503.69 174.24,500.84 174.71,502.98 175.00,506.53 176.22,503.69 176.75,506.35 177.28,507.24 178.15,508.54 178.29,506.44 180.26,507.20 182.00,503.83 182.24,504.72 183.62,501.25 184.15,499.62 185.05,491.62 185.24,491.97 186.33,479.22 186.64,480.26 187.70,480.49 188.05,479.87 189.06,486.87 189.92,499.73 190.15,502.17 191.79,505.99 191.92,503.67 193.71,505.11 194.52,504.72 195.61,501.79 197.20,500.33 197.25,499.62 198.95,496.28 199.43,497.07 200.52,494.52 200.98,496.54 202.16,499.62 202.60,497.98 204.07,497.07 204.59,495.58 205.43,491.97 206.25,484.32 206.51,486.78 207.34,499.62 208.03,502.72 208.70,504.72 209.98,502.33 210.89,502.17 211.92,492.57 212.33,487.46 213.15,491.25 213.75,476.07 213.86,475.91 214.57,491.25 215.25,482.27 215.38,479.87 216.19,489.36 217.00,479.87 217.23,477.07 217.81,472.28 218.63,464.69 218.80,466.05 219.23,468.48 219.84,462.79 220.45,468.48 220.55,464.92 221.06,455.20 221.87,453.30 222.27,444.26 222.48,438.12 223.09,441.91 223.65,427.29 223.70,426.73 224.31,417.25 224.92,396.37 225.12,401.62 225.53,411.55 226.14,378.34 226.56,401.45 226.75,415.35 227.56,417.25 228.37,426.73 228.53,429.87 229.18,441.91 229.99,451.40 230.26,454.69 230.80,464.69 231.62,476.07 231.87,481.09 232.23,487.46 232.83,476.07 233.65,460.89 233.70,459.55 234.26,464.69 234.86,460.89 235.33,478.65 235.47,483.66 236.08,476.07 236.69,481.76 236.95,463.43 237.30,440.02 237.91,441.91 238.52,449.51 238.72,453.89 239.13,460.89 239.74,457.10 240.36,468.13 240.55,472.28 241.36,483.66 241.87,488.81 242.17,491.25 243.19,498.84 243.68,500.46 244.20,506.43 245.01,491.25 245.32,486.20 245.82,476.07 246.64,472.28 247.14,448.97 247.25,445.71 247.85,413.45 248.46,412.50 248.78,430.34 249.07,445.71 249.68,468.48 250.29,479.87 250.65,485.29 251.31,498.84 252.28,499.62 252.52,500.60 253.37,502.17 254.07,497.98 254.74,497.07 255.56,488.14 255.94,493.58 256.37,499.62 257.62,501.15 258.01,503.44 259.38,502.17 259.61,503.27 261.26,501.66 262.10,504.72 263.19,504.46 264.83,503.44 264.89,502.59 266.20,502.17 266.84,504.61 267.56,505.99 268.84,503.33 270.29,504.72 270.69,505.22 272.46,502.94 273.01,503.44 274.25,504.03 275.74,502.69 275.74,504.72 277.15,504.15 278.47,503.44 278.61,500.98 280.12,500.58 280.65,499.62 281.74,497.07 282.08,498.25 282.84,503.44 284.05,505.98 285.29,507.27 286.02,504.90 287.80,508.02 289.21,505.25 289.38,507.27 290.95,506.97 292.41,503.40 293.47,504.72 294.44,506.58 294.84,507.27 296.05,505.64 297.57,507.27 298.01,507.29 299.52,505.32 300.29,505.99 301.33,504.77 301.66,503.44 302.99,505.90 303.02,507.27 304.64,508.36 305.75,508.54 306.32,507.49 307.93,507.27 308.05,505.56 309.30,476.66 309.72,462.80 310.39,446.06 311.21,430.76 311.22,431.39 312.02,429.48 312.84,443.51 313.12,444.96 313.93,456.26 314.87,474.17 315.30,481.77 316.66,486.87 316.70,483.95 317.75,466.46 318.19,474.63 318.84,486.87 320.09,493.87 320.21,497.07 321.57,502.17 321.83,502.10 322.94,499.62 323.71,503.54 323.75,504.72 324.85,508.54 325.28,508.73 327.07,507.38 327.57,508.54 328.62,500.41 328.94,497.07 330.66,481.37 331.05,479.22 332.42,476.66 332.54,477.51 333.78,481.77 334.51,489.22 334.60,491.97 335.69,499.62 336.08,503.49 336.51,507.27 337.48,502.15 337.87,502.17 339.13,503.51 339.24,503.44 340.60,507.27 340.77,505.78 341.96,504.72 342.69,498.57 343.87,488.14 344.76,495.98 344.96,499.62 346.06,507.27 346.56,506.77 347.42,504.72 348.52,500.54 348.78,502.17 350.15,508.54 350.29,508.86 351.51,507.27 352.17,505.40 353.84,509.05 354.24,508.54 355.60,505.99 355.89,503.75 356.97,502.17 357.43,501.96 358.33,500.89 359.31,499.05 359.70,500.89 361.06,504.72 361.36,506.09 362.42,507.27 362.91,506.34 364.48,507.45 365.15,507.27 366.35,504.52 367.88,505.99 368.36,506.46 370.34,505.99 370.61,507.27 372.02,506.64 373.33,504.72 373.46,503.50 374.70,499.62 375.42,497.18 376.06,494.52 377.06,476.62 377.15,476.66 378.25,467.74 378.91,479.35 379.34,486.87 380.43,497.07 380.52,496.35 381.52,504.72 382.25,503.56 382.88,502.17 384.03,500.88 384.25,503.44 385.61,499.62 385.69,500.43 386.97,504.72 387.16,503.98 388.34,507.27 389.00,506.13 389.70,504.72 391.00,503.65 392.43,507.27 392.45,508.14 394.10,503.69 395.16,504.72 396.01,500.24 396.52,497.07 397.86,490.27 397.89,491.97 399.25,502.17 399.80,503.45 400.61,504.72 401.71,501.31 401.98,503.44 403.34,504.72 403.56,504.82 404.71,502.17 405.02,500.08 406.07,499.62 406.65,497.04 407.43,491.97 408.51,487.47 409.34,486.87 410.02,491.67 410.98,497.07 411.84,501.17 412.07,503.44 413.84,505.09 414.25,504.72 415.31,503.38 416.79,507.40 416.98,507.27 418.35,504.72 418.67,501.49 420.26,495.79 420.44,497.50 421.35,502.17 422.15,498.52 422.98,497.07 423.65,495.05 424.62,491.97 425.53,496.37 425.71,499.62 427.29,505.24 427.35,504.72 428.93,505.76 429.26,507.27 430.58,508.09 431.99,507.27 431.99,505.75 433.55,507.99 434.71,507.27 435.18,504.78 436.08,503.44 436.84,503.24 437.44,502.17 438.76,504.71 439.01,506.66 440.73,504.47 440.92,504.11 442.28,506.66 442.30,505.90 443.76,506.71 445.01,505.39 445.65,504.17 447.17,504.77 447.74,504.11 449.07,500.23 449.65,501.56 450.97,500.06 451.29,499.01 452.46,491.12 452.65,491.36 453.74,499.01 453.98,500.39 455.11,504.11 455.75,504.18 456.74,506.66 457.31,507.02 458.65,505.39 458.72,503.35 460.56,506.66 460.72,506.97 461.92,501.56 462.37,495.49 463.02,490.60 463.83,506.66 464.16,507.51 465.47,507.94 466.22,506.08 467.81,508.75 468.20,507.94 469.53,505.61 470.93,506.66 471.42,507.13 472.29,507.94 473.34,503.19 473.66,504.11 474.47,481.16 475.06,466.98 475.29,460.76 476.38,446.73 476.77,451.16 477.20,458.21 478.02,463.31 478.52,479.61 478.57,481.16 479.11,501.56 480.25,502.97 480.47,505.39 481.94,506.61 483.20,506.66 483.99,504.78 485.47,508.47 485.93,507.94 487.28,506.64 488.66,506.66 488.92,507.00 490.36,505.87 491.39,507.94 492.38,507.58 493.30,506.66 494.37,491.37 494.93,486.26 495.85,482.78 496.02,481.16 496.84,465.86 497.65,413.16 497.66,414.85 498.48,394.45 499.30,384.25 499.53,390.77 500.12,404.65 501.07,296.00 501.15,307.53 501.56,376.60 501.92,302.64 502.35,296.00 502.71,414.85 503.12,425.05 503.18,425.45 503.94,419.95 504.75,430.15 504.87,432.18 505.57,458.21 506.39,414.85 506.59,399.29 507.21,351.09 508.01,322.81 508.03,322.78 508.85,338.34 509.53,423.70 509.66,440.35 510.48,486.26 511.26,489.21 511.30,491.36 512.66,501.56 513.01,502.62 514.03,504.11 514.85,504.62 515.94,507.94 516.56,505.77 517.30,501.56 518.22,486.96 518.67,481.16 520.03,470.96 520.23,472.00 521.39,473.51 521.86,485.42 522.21,496.46 523.30,499.01 523.62,497.83 524.67,491.36 525.15,481.68 525.49,476.06 526.30,481.16 526.68,489.00 527.12,496.46 528.17,482.81 528.21,483.71 529.31,501.56 529.69,502.36 530.94,504.11 531.19,503.25 532.31,506.66 532.69,503.80 533.67,496.46 534.15,497.39 535.03,501.56 535.88,505.56 536.40,507.94 537.28,503.67 537.64,503.92 538.30,498.94 538.94,470.72 538.97,469.06 539.37,450.38 539.77,439.17 540.30,444.15 540.36,439.95 540.70,426.72 541.10,431.70 541.36,427.97 541.63,430.46 542.02,450.09 542.03,450.38 542.30,437.93 542.70,460.34 542.96,456.60 543.63,466.57 544.03,462.83 544.08,462.86 544.69,476.53 545.09,472.79 545.53,478.64 545.89,482.75 546.29,480.26 546.96,491.47 547.03,490.74 547.62,501.43 548.29,505.17 548.65,505.96 548.96,506.41 549.62,505.17 550.07,504.07 550.29,506.41 550.95,502.68 551.62,506.41 551.65,506.96 552.29,501.43 552.95,506.41 553.35,505.21 553.62,508.28 554.28,506.41 554.95,504.17 554.95,503.92 555.62,498.94 556.28,496.45 556.51,495.22 556.95,498.94 557.61,497.69 558.28,495.20 558.34,495.95 558.94,500.18 559.61,505.17 559.78,502.01 560.28,500.18 560.94,506.41 561.61,501.43 561.84,503.72 562.27,506.41 562.94,497.69 563.23,500.83 563.61,506.41 564.27,503.92 564.68,504.83 564.94,505.17 565.60,501.43 566.09,504.36 566.27,506.41 566.94,505.17 567.60,507.66 567.92,506.71 568.27,503.92 569.45,501.66 569.88,504.11 571.16,507.26 571.25,506.66 572.61,507.94 573.18,504.53 573.98,505.39 574.59,503.95 575.34,501.56 576.39,503.16 576.70,506.66 577.84,502.69 578.07,501.56 579.43,499.01 579.81,493.47 580.25,488.81 581.07,501.56 581.47,503.75 582.16,506.66 583.32,502.17 583.52,504.11 584.83,507.25 584.89,506.66 586.72,505.38 587.61,507.94 588.49,508.40 590.13,505.42 590.34,506.66 591.67,506.16 591.71,505.39 593.39,506.00 593.48,507.17 594.74,504.80 594.89,505.21 595.59,503.23 596.43,500.47 596.69,500.18 597.27,505.59 598.11,501.66 598.35,502.33 598.95,502.44 599.80,507.17 599.84,504.87 600.64,499.29 601.24,496.93 601.48,495.36 602.32,495.36 603.15,504.32 603.16,506.38 604.01,501.66 604.60,502.43 604.85,502.44 605.52,489.85 606.11,506.38 606.57,498.19 606.95,494.57 607.79,497.72 608.56,505.71 608.64,505.59 609.48,502.44 610.26,497.27 610.32,499.29 611.16,498.51 612.00,497.72 612.15,498.08 613.27,498.11 613.79,497.65 614.11,498.51 614.95,502.44 615.45,505.21 615.79,505.59 616.64,501.66 616.91,499.00 617.48,498.51 618.32,502.44 618.37,502.10 619.16,495.36 620.00,497.72 620.20,498.38 620.85,504.80 621.62,499.87 621.69,499.29 622.53,494.57 623.12,478.83 623.45,484.95 623.79,494.57 624.64,496.15 624.85,496.95 625.48,498.51 626.15,478.83 626.74,476.46 626.90,477.58 627.16,481.98 627.58,490.63 628.00,498.51 628.42,486.70 628.67,482.42 628.85,478.83 629.27,471.74 629.69,478.83 630.11,493.00 630.53,485.12 630.60,484.60 630.95,492.21 631.37,486.70 632.05,482.76 632.53,483.92 632.63,483.55 633.48,483.16 634.05,483.05 634.32,484.34 634.91,478.83 635.49,487.70 635.58,488.27 636.42,494.57 636.95,496.41 637.27,498.51 638.11,493.00 638.95,479.61 639.00,480.24 639.79,486.70 640.63,488.27 641.00,490.32 641.48,494.57 642.32,500.08 642.71,494.77 642.99,490.63 643.58,482.37 644.25,490.63 644.67,492.24 644.84,495.36 645.69,493.78 646.50,496.78 646.53,496.15 647.37,494.57 648.21,493.00 648.49,493.32 649.05,497.72 649.73,500.87 650.29,495.28 650.32,494.57 651.24,495.36" fill="none" stroke="#000" stroke-width="1.25" stroke-linejoin="round"/>
<text x="10.50" y="557.70" font-size="7.9" font-weight="bold" fill="#000" textLength="131.40" lengthAdjust="spacingAndGlyphs">C. Ethyl acetate fraction</text>
<text x="28.10" y="648.70" font-size="6.2" font-weight="normal" fill="#111" stroke="#111" stroke-width="0.1" textLength="37.90" lengthAdjust="spacingAndGlyphs">117.1727</text>
<text x="73.60" y="675.80" font-size="6.2" font-weight="normal" fill="#111" stroke="#111" stroke-width="0.1" textLength="38.40" lengthAdjust="spacingAndGlyphs">353.5222</text>
<text x="8.00" y="706.50" font-size="6.2" font-weight="normal" fill="#111" stroke="#111" stroke-width="0.1" textLength="38.50" lengthAdjust="spacingAndGlyphs">463.5786</text>
<text x="151.20" y="683.50" font-size="6.2" font-weight="normal" fill="#111" stroke="#111" stroke-width="0.1" textLength="37.90" lengthAdjust="spacingAndGlyphs">187.1895</text>
<text x="286.90" y="694.70" font-size="6.2" font-weight="normal" fill="#111" stroke="#111" stroke-width="0.1" textLength="37.80" lengthAdjust="spacingAndGlyphs">313.4885</text>
<text x="227.00" y="704.90" font-size="6.2" font-weight="normal" fill="#111" stroke="#111" stroke-width="0.1" textLength="37.80" lengthAdjust="spacingAndGlyphs">179.3112</text>
<text x="424.30" y="550.20" font-size="6.2" font-weight="normal" fill="#111" stroke="#111" stroke-width="0.1" textLength="37.80" lengthAdjust="spacingAndGlyphs">187.3395</text>
<text x="354.70" y="652.70" font-size="6.2" font-weight="normal" fill="#111" stroke="#111" stroke-width="0.1" textLength="38.40" lengthAdjust="spacingAndGlyphs">463.5065</text>
<text x="421.10" y="650.40" font-size="6.2" font-weight="normal" fill="#111" stroke="#111" stroke-width="0.1" textLength="37.70" lengthAdjust="spacingAndGlyphs">187.3395</text>
<text x="457.90" y="684.40" font-size="6.2" font-weight="normal" fill="#111" stroke="#111" stroke-width="0.1" textLength="38.20" lengthAdjust="spacingAndGlyphs">243.3577</text>
<text x="548.70" y="658.10" font-size="6.2" font-weight="normal" fill="#111" stroke="#111" stroke-width="0.1" textLength="37.90" lengthAdjust="spacingAndGlyphs">327.6011</text>
<text x="19.90" y="619.80" font-size="6.2" font-weight="bold" fill="#000" textLength="55.40" lengthAdjust="spacingAndGlyphs">Succinic acid</text>
<text x="91.10" y="641.70" font-size="6.2" font-weight="bold" fill="#000" textLength="70.70" lengthAdjust="spacingAndGlyphs">Chlorogenic acid</text>
<text x="91.10" y="647.40" font-size="6.2" font-weight="bold" fill="#000" textLength="32.10" lengthAdjust="spacingAndGlyphs">isomers</text>
<text x="112.60" y="677.90" font-size="6.2" font-weight="bold" fill="#000" textLength="64.30" lengthAdjust="spacingAndGlyphs">Protocatechuic</text>
<text x="112.60" y="683.80" font-size="6.2" font-weight="bold" fill="#000" textLength="17.00" lengthAdjust="spacingAndGlyphs">acid</text>
<text x="164.00" y="658.00" font-size="6.2" font-weight="bold" fill="#000" textLength="46.00" lengthAdjust="spacingAndGlyphs">quinic acid</text>
<text x="227.00" y="642.80" font-size="6.2" font-weight="bold" fill="#000" textLength="64.00" lengthAdjust="spacingAndGlyphs">Protocatechuic</text>
<text x="227.00" y="648.90" font-size="6.2" font-weight="bold" fill="#000" textLength="38.30" lengthAdjust="spacingAndGlyphs">aldehyde</text>
<text x="291.80" y="626.30" font-size="6.2" font-weight="bold" fill="#000" textLength="47.80" lengthAdjust="spacingAndGlyphs">Quinic acid</text>
<text x="291.80" y="631.80" font-size="6.2" font-weight="bold" fill="#000" textLength="41.00" lengthAdjust="spacingAndGlyphs">pentoside</text>
<text x="258.60" y="664.10" font-size="6.2" font-weight="bold" fill="#000" textLength="71.00" lengthAdjust="spacingAndGlyphs">Benzoyl hydroxy</text>
<text x="258.60" y="670.20" font-size="6.2" font-weight="bold" fill="#000" textLength="48.60" lengthAdjust="spacingAndGlyphs">ferulic acid</text>
<text x="221.60" y="684.70" font-size="6.2" font-weight="bold" fill="#000" textLength="49.10" lengthAdjust="spacingAndGlyphs">Caffeic acid</text>
<text x="354.70" y="556.80" font-size="6.2" font-weight="bold" fill="#000" textLength="43.80" lengthAdjust="spacingAndGlyphs">Gallic acid</text>
<text x="354.70" y="562.60" font-size="6.2" font-weight="bold" fill="#000" textLength="56.20" lengthAdjust="spacingAndGlyphs">monohydrate</text>
<text x="338.90" y="606.40" font-size="6.2" font-weight="bold" fill="#000" textLength="42.40" lengthAdjust="spacingAndGlyphs">Quercetin</text>
<text x="338.90" y="612.00" font-size="6.2" font-weight="bold" fill="#000" textLength="39.10" lengthAdjust="spacingAndGlyphs">glucoside</text>
<text x="376.00" y="627.70" font-size="6.2" font-weight="bold" fill="#000" textLength="48.70" lengthAdjust="spacingAndGlyphs">Kaempferol</text>
<text x="376.00" y="633.30" font-size="6.2" font-weight="bold" fill="#000" textLength="39.40" lengthAdjust="spacingAndGlyphs">glucoside</text>
<text x="595.10" y="671.50" font-size="6.2" font-weight="bold" fill="#000" textLength="37.40" lengthAdjust="spacingAndGlyphs">Dimethyl</text>
<text x="595.10" y="677.80" font-size="6.2" font-weight="bold" fill="#000" textLength="47.60" lengthAdjust="spacingAndGlyphs">ellagic acid</text>
<text x="164.00" y="652.30" font-size="6.2" font-weight="bold" fill="#000" textLength="54.10" lengthAdjust="spacingAndGlyphs"><tspan font-style="italic">p</tspan>-Coumaroyl</text>
<line x1="31.30" y1="621.70" x2="45.20" y2="641.60" stroke="#000" stroke-width="1.0"/>
<line x1="88.30" y1="648.70" x2="34.20" y2="666.30" stroke="#000" stroke-width="1.0"/>
<line x1="88.30" y1="649.00" x2="83.50" y2="667.60" stroke="#000" stroke-width="1.0"/>
<line x1="111.60" y1="686.60" x2="100.60" y2="696.10" stroke="#000" stroke-width="1.0"/>
<line x1="172.50" y1="659.70" x2="145.90" y2="695.40" stroke="#000" stroke-width="1.0"/>
<line x1="186.20" y1="677.70" x2="227.50" y2="650.10" stroke="#000" stroke-width="1.0"/>
<line x1="315.30" y1="633.40" x2="343.60" y2="671.70" stroke="#000" stroke-width="1.0"/>
<line x1="286.90" y1="671.70" x2="297.70" y2="687.40" stroke="#000" stroke-width="1.0"/>
<line x1="230.20" y1="686.60" x2="239.10" y2="698.70" stroke="#000" stroke-width="1.0"/>
<line x1="405.00" y1="554.80" x2="437.10" y2="562.70" stroke="#000" stroke-width="1.0"/>
<line x1="359.60" y1="613.90" x2="366.50" y2="647.40" stroke="#000" stroke-width="1.0"/>
<line x1="402.00" y1="635.00" x2="423.30" y2="677.90" stroke="#000" stroke-width="1.0"/>
<line x1="599.50" y1="680.30" x2="606.80" y2="702.20" stroke="#000" stroke-width="1.0"/>
<line x1="0.00" y1="741.50" x2="649.70" y2="741.50" stroke="#8a8a8a" stroke-width="1.0"/>
<line x1="16.60" y1="741.00" x2="16.60" y2="742.80" stroke="#7a7a7a" stroke-width="0.8"/>
<text x="7.60" y="749.50" font-size="6.1" font-weight="normal" fill="#222" textLength="18.00" lengthAdjust="spacingAndGlyphs">0.50</text>
<line x1="49.70" y1="741.00" x2="49.70" y2="742.80" stroke="#7a7a7a" stroke-width="0.8"/>
<text x="40.70" y="749.50" font-size="6.1" font-weight="normal" fill="#222" textLength="18.00" lengthAdjust="spacingAndGlyphs">1.00</text>
<line x1="82.80" y1="741.00" x2="82.80" y2="742.80" stroke="#7a7a7a" stroke-width="0.8"/>
<text x="73.80" y="749.50" font-size="6.1" font-weight="normal" fill="#222" textLength="18.00" lengthAdjust="spacingAndGlyphs">1.50</text>
<line x1="115.90" y1="741.00" x2="115.90" y2="742.80" stroke="#7a7a7a" stroke-width="0.8"/>
<text x="106.90" y="749.50" font-size="6.1" font-weight="normal" fill="#222" textLength="18.00" lengthAdjust="spacingAndGlyphs">2.00</text>
<line x1="149.00" y1="741.00" x2="149.00" y2="742.80" stroke="#7a7a7a" stroke-width="0.8"/>
<text x="140.00" y="749.50" font-size="6.1" font-weight="normal" fill="#222" textLength="18.00" lengthAdjust="spacingAndGlyphs">2.50</text>
<line x1="182.10" y1="741.00" x2="182.10" y2="742.80" stroke="#7a7a7a" stroke-width="0.8"/>
<text x="173.10" y="749.50" font-size="6.1" font-weight="normal" fill="#222" textLength="18.00" lengthAdjust="spacingAndGlyphs">3.00</text>
<line x1="215.20" y1="741.00" x2="215.20" y2="742.80" stroke="#7a7a7a" stroke-width="0.8"/>
<text x="206.20" y="749.50" font-size="6.1" font-weight="normal" fill="#222" textLength="18.00" lengthAdjust="spacingAndGlyphs">3.50</text>
<line x1="248.30" y1="741.00" x2="248.30" y2="742.80" stroke="#7a7a7a" stroke-width="0.8"/>
<text x="239.30" y="749.50" font-size="6.1" font-weight="normal" fill="#222" textLength="18.00" lengthAdjust="spacingAndGlyphs">4.00</text>
<line x1="281.40" y1="741.00" x2="281.40" y2="742.80" stroke="#7a7a7a" stroke-width="0.8"/>
<text x="272.40" y="749.50" font-size="6.1" font-weight="normal" fill="#222" textLength="18.00" lengthAdjust="spacingAndGlyphs">4.50</text>
<line x1="314.50" y1="741.00" x2="314.50" y2="742.80" stroke="#7a7a7a" stroke-width="0.8"/>
<text x="305.50" y="749.50" font-size="6.1" font-weight="normal" fill="#222" textLength="18.00" lengthAdjust="spacingAndGlyphs">5.00</text>
<line x1="347.60" y1="741.00" x2="347.60" y2="742.80" stroke="#7a7a7a" stroke-width="0.8"/>
<text x="338.60" y="749.50" font-size="6.1" font-weight="normal" fill="#222" textLength="18.00" lengthAdjust="spacingAndGlyphs">5.50</text>
<line x1="380.70" y1="741.00" x2="380.70" y2="742.80" stroke="#7a7a7a" stroke-width="0.8"/>
<text x="371.70" y="749.50" font-size="6.1" font-weight="normal" fill="#222" textLength="18.00" lengthAdjust="spacingAndGlyphs">6.00</text>
<line x1="413.80" y1="741.00" x2="413.80" y2="742.80" stroke="#7a7a7a" stroke-width="0.8"/>
<text x="404.80" y="749.50" font-size="6.1" font-weight="normal" fill="#222" textLength="18.00" lengthAdjust="spacingAndGlyphs">6.50</text>
<line x1="446.90" y1="741.00" x2="446.90" y2="742.80" stroke="#7a7a7a" stroke-width="0.8"/>
<text x="437.90" y="749.50" font-size="6.1" font-weight="normal" fill="#222" textLength="18.00" lengthAdjust="spacingAndGlyphs">7.00</text>
<line x1="480.00" y1="741.00" x2="480.00" y2="742.80" stroke="#7a7a7a" stroke-width="0.8"/>
<text x="471.00" y="749.50" font-size="6.1" font-weight="normal" fill="#222" textLength="18.00" lengthAdjust="spacingAndGlyphs">7.50</text>
<line x1="513.10" y1="741.00" x2="513.10" y2="742.80" stroke="#7a7a7a" stroke-width="0.8"/>
<text x="504.10" y="749.50" font-size="6.1" font-weight="normal" fill="#222" textLength="18.00" lengthAdjust="spacingAndGlyphs">8.00</text>
<line x1="546.20" y1="741.00" x2="546.20" y2="742.80" stroke="#7a7a7a" stroke-width="0.8"/>
<text x="537.20" y="749.50" font-size="6.1" font-weight="normal" fill="#222" textLength="18.00" lengthAdjust="spacingAndGlyphs">8.50</text>
<line x1="579.30" y1="741.00" x2="579.30" y2="742.80" stroke="#7a7a7a" stroke-width="0.8"/>
<text x="570.30" y="749.50" font-size="6.1" font-weight="normal" fill="#222" textLength="18.00" lengthAdjust="spacingAndGlyphs">9.00</text>
<line x1="612.40" y1="741.00" x2="612.40" y2="742.80" stroke="#7a7a7a" stroke-width="0.8"/>
<text x="603.40" y="749.50" font-size="6.1" font-weight="normal" fill="#222" textLength="18.00" lengthAdjust="spacingAndGlyphs">9.50</text>
<line x1="645.50" y1="741.00" x2="645.50" y2="742.80" stroke="#7a7a7a" stroke-width="0.8"/>
<text x="636.50" y="749.50" font-size="6.1" font-weight="normal" fill="#222" textLength="13.50" lengthAdjust="spacingAndGlyphs">10.0</text>
<text x="287.50" y="759.00" font-size="9.0" font-weight="bold" fill="#000" textLength="77.40" lengthAdjust="spacingAndGlyphs">Retention time</text>
<polyline points="0.00,735.57 0.90,732.73 1.44,734.13 2.87,737.84 2.88,737.01 4.31,735.57 4.99,734.74 5.75,738.45 7.10,737.81 8.63,737.01 8.87,734.52 10.78,739.03 11.50,738.45 12.30,736.67 13.92,738.54 14.38,737.87 15.77,737.49 17.26,738.45 17.37,738.68 19.47,735.10 20.13,737.01 21.02,737.58 22.56,734.35 23.01,736.15 24.09,735.88 25.31,735.57 26.16,725.98 26.46,724.07 27.32,712.56 27.76,712.15 28.19,709.69 28.76,701.06 29.62,678.05 29.82,673.80 30.77,660.79 31.64,666.55 31.96,671.38 32.50,678.05 33.65,692.43 33.88,693.72 34.51,701.06 35.38,712.56 36.00,719.55 36.53,724.07 37.68,729.82 38.14,724.43 38.83,722.63 39.79,723.97 40.26,724.07 41.35,715.52 41.70,714.00 42.84,713.18 43.14,712.56 44.00,701.06 44.71,686.22 45.15,678.05 46.02,660.79 46.64,655.94 46.88,653.60 47.74,666.55 48.30,668.42 48.89,675.17 50.04,689.55 50.09,690.48 51.19,703.93 51.88,706.95 52.34,712.56 53.36,726.27 53.49,726.94 54.64,729.82 54.81,726.93 56.08,724.07 56.86,721.74 57.52,719.75 58.87,725.10 58.96,726.94 60.40,728.38 60.73,727.93 61.83,726.37 62.20,725.87 63.27,728.38 64.33,726.61 65.57,724.07 66.31,723.60 67.59,729.82 68.43,728.49 69.03,726.94 70.13,724.11 70.46,725.50 71.90,728.38 72.12,727.56 73.63,721.19 74.10,720.87 75.35,728.38 76.16,729.09 77.08,729.82 78.23,724.07 78.28,723.34 79.95,726.94 79.97,727.54 81.97,721.19 82.07,719.64 83.41,718.31 84.18,717.35 84.84,715.44 85.84,712.15 86.28,712.56 87.41,711.52 87.72,711.12 88.96,711.52 89.16,714.00 90.60,706.81 91.11,700.77 92.03,689.55 92.59,680.38 92.90,679.49 93.76,695.31 94.41,704.44 94.62,706.81 95.48,696.74 96.02,698.23 96.64,703.93 97.79,701.06 98.06,700.99 99.22,698.18 99.80,703.21 100.09,706.81 101.24,716.88 101.90,721.06 102.39,724.07 103.54,718.31 103.70,715.61 104.98,715.44 105.23,717.74 106.41,724.07 107.35,723.99 107.85,726.94 109.29,721.19 109.36,721.23 111.09,719.34 111.11,718.30 112.18,714.99 113.16,716.28 113.27,716.08 114.35,723.70 114.93,718.67 115.44,719.34 116.53,716.08 116.98,722.06 117.62,728.05 118.71,719.34 118.75,717.57 119.80,716.08 120.71,721.16 120.89,721.52 121.97,719.34 122.36,717.09 123.06,717.17 123.91,720.10 124.15,720.43 125.24,717.17 126.06,716.16 126.33,719.34 127.42,723.70 127.95,722.08 128.51,719.34 129.60,723.70 129.64,723.04 130.68,728.05 131.27,724.16 131.77,719.34 132.86,716.08 133.34,718.02 133.95,723.70 135.04,719.34 135.34,720.77 136.13,721.52 137.22,716.08 137.28,714.25 138.30,719.34 139.27,723.59 139.39,723.70 140.48,721.52 141.22,721.77 141.57,723.70 142.66,721.52 143.01,719.54 143.75,712.81 144.84,701.92 144.94,700.35 145.92,698.66 147.01,701.92 147.06,702.40 148.10,697.57 148.92,703.49 149.19,706.28 150.28,712.81 150.76,711.16 151.37,708.46 152.46,712.81 152.68,710.31 153.54,708.46 154.63,714.99 154.71,716.27 155.72,723.70 156.72,706.32 156.81,706.28 157.90,704.10 158.63,709.24 158.99,710.63 160.08,703.01 160.66,711.62 161.16,721.52 162.25,717.17 162.71,718.99 163.34,719.34 164.43,712.81 164.65,713.13 165.52,728.05 166.17,730.23 166.77,723.26 167.04,719.34 167.91,706.28 168.59,695.09 168.79,693.22 169.66,687.77 170.53,701.92 170.64,703.74 171.40,708.46 172.27,704.10 172.42,703.16 173.14,710.63 174.01,704.10 174.38,709.48 174.88,714.99 175.75,723.70 175.94,721.90 176.62,725.87 177.49,723.70 177.80,724.70 178.58,724.79 179.54,725.73 179.67,728.05 180.76,724.79 181.54,729.36 181.85,730.23 182.94,730.23 183.50,728.41 184.03,728.05 185.06,730.57 185.11,730.23 186.20,725.87 186.96,723.26 187.29,723.70 188.38,719.34 188.90,717.93 189.47,714.99 190.37,709.77 190.56,710.63 191.65,706.28 191.97,711.75 192.30,717.17 193.17,704.10 193.51,698.60 194.04,693.22 194.91,697.57 195.08,699.84 195.78,708.46 196.54,703.05 196.65,704.10 197.52,710.63 198.26,718.60 198.40,719.34 199.27,723.70 200.12,716.15 200.14,717.17 201.01,708.46 201.88,708.46 202.21,712.62 202.75,719.34 203.62,728.05 203.94,727.48 204.71,730.23 205.68,724.53 205.80,723.70 206.89,721.52 207.72,722.60 207.98,724.79 209.06,730.23 209.18,730.63 210.15,728.05 210.69,727.36 211.24,730.23 212.33,728.05 212.38,728.76 213.42,730.23 214.51,723.53 214.51,725.87 215.60,723.70 216.25,728.47 216.68,730.23 217.77,731.32 218.15,729.53 218.86,730.23 219.69,729.19 219.95,728.05 221.04,725.87 221.54,724.23 222.13,728.05 223.22,731.32 223.68,732.42 224.30,732.41 225.37,730.96 225.39,733.49 226.81,733.61 227.57,733.49 228.66,730.53 228.71,732.41 230.20,734.56 230.89,734.58 232.28,731.07 233.06,731.32 234.03,732.52 234.15,732.41 235.24,728.05 235.68,726.26 236.33,730.23 237.39,726.98 237.42,725.87 238.51,732.41 239.49,726.58 239.60,728.05 240.68,720.43 241.12,721.03 241.77,719.34 242.86,730.23 242.92,727.80 243.51,719.34 244.38,714.99 244.59,714.51 245.26,708.46 246.13,710.63 246.38,711.30 247.00,717.17 247.87,713.90 248.16,717.35 248.74,723.70 249.61,721.52 250.05,720.51 250.48,722.61 251.57,720.43 251.70,721.52 252.66,722.61 253.74,720.87 253.75,721.52 254.84,732.41 255.56,731.24 255.92,730.23 257.01,733.49 257.67,730.56 258.10,732.41 259.19,730.23 259.29,730.61 260.84,729.17 261.37,732.41 262.49,733.04 263.54,732.41 264.28,729.69 265.72,730.23 266.15,731.65 267.68,730.93 267.90,733.49 269.33,734.05 270.08,733.49 271.01,733.18 272.25,735.67 272.84,735.87 274.43,734.58 274.54,732.34 276.40,733.64 276.61,733.49 278.02,732.61 278.79,734.58 280.12,734.18 280.96,732.41 281.96,732.24 283.14,733.49 283.96,733.54 285.32,732.41 285.81,731.28 286.41,734.58 287.49,732.41 287.71,733.33 288.58,734.58 289.67,730.23 289.80,728.92 290.76,731.32 291.52,729.92 291.85,728.05 292.94,729.14 293.11,727.38 294.03,725.87 295.11,728.05 295.14,728.24 296.20,732.41 297.19,726.39 297.29,728.05 298.38,732.41 298.94,730.48 299.47,728.05 300.56,721.52 300.94,715.16 301.65,710.63 302.48,714.48 302.73,714.99 303.82,706.28 304.32,702.63 304.91,701.92 305.99,698.84 306.00,698.66 307.09,701.92 307.86,708.80 308.18,714.99 309.27,725.87 309.35,725.80 310.35,721.52 311.38,723.31 311.44,725.87 312.53,719.34 313.29,719.37 313.62,719.34 314.71,710.63 315.25,705.77 315.80,706.28 316.89,708.46 317.41,710.25 317.98,710.63 318.89,711.89 319.06,714.99 320.15,717.17 320.49,716.51 321.24,712.81 322.33,719.34 322.61,718.34 323.42,723.70 324.15,726.93 324.51,728.05 326.25,730.59 326.68,732.41 328.13,731.40 328.86,730.23 329.69,726.64 330.00,727.94 331.16,726.90 331.35,726.59 332.70,723.88 332.87,723.43 334.06,726.59 334.35,726.01 335.41,721.18 336.33,719.62 336.76,722.53 337.86,720.78 338.11,719.83 339.46,721.18 339.53,719.10 340.82,717.12 341.32,702.13 341.63,691.43 342.71,680.62 343.03,677.94 344.06,672.50 344.87,680.62 344.97,680.44 345.68,677.91 346.77,691.43 346.87,691.26 347.85,707.66 348.93,718.47 348.96,719.26 350.28,726.59 350.85,725.97 351.63,727.94 352.69,730.31 352.99,730.64 354.34,726.59 354.67,725.21 355.00,727.26 356.11,720.33 356.20,720.99 357.08,724.49 357.91,721.12 358.05,723.10 359.16,717.56 359.48,716.28 360.26,710.64 361.23,723.10 361.39,722.07 362.20,721.72 363.03,717.56 363.31,719.52 363.86,723.10 364.70,727.26 364.84,724.09 365.80,717.56 366.45,710.11 366.77,705.10 367.74,712.02 368.24,704.90 368.57,702.33 369.40,692.63 370.24,695.40 370.25,695.39 371.34,692.63 372.22,688.15 372.31,688.48 373.01,678.78 373.70,656.62 373.76,658.68 374.39,667.70 375.08,681.55 375.69,686.57 375.78,688.48 376.47,676.01 377.16,661.47 377.22,664.16 377.85,681.55 378.55,706.48 379.14,692.30 379.24,692.63 379.93,681.55 380.62,676.01 380.68,677.32 381.32,684.32 382.29,684.32 382.37,683.75 383.39,691.25 384.05,694.72 384.36,695.40 385.19,699.56 385.74,691.83 386.16,688.48 387.13,698.86 387.28,698.87 387.96,694.02 388.93,695.40 389.19,692.72 389.90,694.02 390.73,695.40 390.94,695.47 391.43,692.63 392.12,671.86 392.67,681.55 392.75,682.24 393.37,703.71 394.20,670.47 394.61,667.15 394.89,663.55 395.58,660.78 396.27,667.70 396.33,667.88 396.97,680.17 397.66,677.40 397.79,678.42 398.35,681.55 399.04,699.56 399.26,688.31 399.74,671.86 400.43,673.24 401.05,676.52 401.12,676.01 401.81,680.17 402.49,681.25 402.51,682.94 403.48,681.55 404.45,669.78 404.57,671.05 405.14,673.24 405.83,677.40 406.32,678.72 406.52,681.55 407.22,685.71 407.83,692.02 407.91,692.63 408.60,698.17 409.29,702.33 409.39,701.67 410.12,709.25 410.96,716.18 411.10,718.08 411.79,721.72 412.65,720.55 412.89,721.72 413.86,722.41 414.29,720.44 414.83,717.56 415.66,712.02 415.94,710.90 416.50,712.02 417.33,698.17 417.73,702.20 418.16,706.48 418.99,709.25 419.82,709.25 419.83,707.96 420.65,717.56 421.48,692.63 421.95,687.77 422.17,684.32 422.87,705.10 423.56,695.40 423.87,690.66 424.25,688.48 425.08,685.71 425.91,681.55 425.99,681.61 426.75,680.86 427.44,695.40 427.91,701.78 428.13,706.48 428.82,709.25 429.52,705.10 429.84,703.92 430.21,700.94 430.90,712.02 431.40,701.03 431.59,698.17 432.29,684.32 432.86,695.96 432.98,698.17 433.67,706.48 434.35,684.57 434.36,685.71 435.06,680.17 435.75,681.55 436.44,673.24 436.49,673.10 437.13,666.32 437.83,664.93 438.16,661.66 438.66,660.78 439.49,655.24 439.80,658.51 440.18,660.78 440.87,651.08 441.57,642.77 441.76,613.74 442.17,554.87 442.98,561.63 443.37,568.86 443.79,575.15 444.60,568.39 445.41,571.10 445.49,573.70 446.22,621.12 447.04,661.69 447.24,670.12 447.85,691.43 448.66,700.90 448.68,700.18 449.47,702.25 450.28,707.66 450.68,713.46 451.09,718.47 452.16,711.37 452.17,713.07 453.26,715.77 454.31,709.74 454.34,709.01 455.69,715.77 456.00,713.08 457.04,707.66 457.49,712.20 458.39,718.47 459.29,712.31 459.75,713.07 460.76,719.43 461.10,721.18 462.24,717.43 462.45,718.47 463.72,723.84 463.80,723.88 465.15,718.47 465.46,719.02 466.51,726.59 466.93,725.77 467.86,723.88 468.67,713.07 469.07,708.02 469.75,702.25 470.88,699.29 471.10,698.19 471.91,707.66 472.70,717.36 472.73,718.47 473.81,707.66 474.37,713.38 474.89,718.47 475.97,702.25 476.20,696.55 477.05,687.38 478.07,707.35 478.13,707.66 479.22,721.18 479.66,722.75 480.30,726.59 481.38,726.59 481.49,727.32 482.73,729.29 483.34,729.10 484.08,732.00 485.23,733.33 486.79,733.35 487.33,731.80 489.09,733.06 489.49,732.00 490.70,731.72 492.20,733.35 492.36,733.32 494.36,729.48 494.90,731.45 496.02,732.38 497.52,732.15 497.60,733.35 499.02,733.09 500.31,732.00 500.88,730.85 502.36,732.73 503.01,732.00 503.84,729.30 504.36,729.29 505.48,727.45 505.72,726.59 506.99,721.25 507.07,722.53 508.42,729.29 508.66,730.32 509.77,730.64 510.50,729.58 511.12,733.35 512.41,735.43 512.48,734.70 513.83,732.00 514.26,731.31 515.18,734.70 516.29,734.28 516.53,733.35 517.89,729.29 518.42,726.06 519.24,726.59 520.36,724.61 520.59,723.88 521.94,721.18 522.39,718.85 523.29,718.47 523.92,719.80 524.65,721.18 525.48,723.35 526.00,726.59 527.35,729.29 527.41,729.47 528.70,726.59 528.90,723.18 530.05,718.47 530.74,715.77 531.41,713.07 532.21,715.40 532.76,718.47 533.91,730.91 534.11,732.00 535.46,723.88 536.04,719.68 536.81,718.47 537.64,723.89 538.17,726.59 539.34,720.56 539.52,721.18 540.79,726.88 540.87,726.59 542.22,729.29 542.83,727.14 543.57,729.29 544.34,732.13 544.93,733.35 545.41,732.54 545.90,731.01 546.76,734.16 547.66,733.71 548.11,732.00 549.46,734.16 549.67,733.03 550.82,732.54 551.34,734.34 552.17,734.70 553.11,732.21 553.52,733.35 554.87,732.80 554.87,732.00 556.22,729.29 556.98,724.51 557.58,723.88 558.39,713.07 559.12,719.20 559.47,721.18 560.28,702.25 560.64,692.20 561.09,684.67 562.17,680.62 562.38,676.91 562.99,665.74 563.80,667.10 564.52,693.04 564.61,696.84 565.42,675.21 566.23,664.39 566.38,664.65 567.04,663.04 567.85,662.23 568.45,662.38 568.66,664.39 569.48,680.62 570.05,684.73 570.29,686.02 571.10,679.26 571.63,682.81 571.91,687.38 572.72,694.14 573.33,697.98 573.53,698.19 574.34,691.43 574.94,690.06 575.15,691.43 576.51,692.79 576.56,694.22 577.86,702.25 578.61,705.46 578.94,710.36 580.02,709.01 580.49,711.20 581.10,713.07 582.04,716.52 582.18,719.83 583.27,723.88 583.83,725.05 584.62,726.59 585.39,724.98 585.97,725.24 587.32,727.94 587.35,728.86 588.67,726.59 588.93,724.80 590.03,729.29 590.60,728.62 591.38,726.05 592.67,724.62 592.73,726.59 594.08,733.35 594.68,734.94 595.44,736.05 596.13,733.37 596.79,734.16 597.99,734.83 598.14,734.70 599.49,733.35 599.71,730.95 600.84,726.59 601.17,725.60 602.20,721.18 602.89,716.78 603.55,715.77 604.83,718.76 604.90,718.47 606.25,707.66 606.98,707.75 607.06,710.36 608.14,721.18 609.09,726.61 609.23,726.59 610.31,732.00 611.01,729.54 611.66,730.64 613.01,732.54 613.02,732.91 614.36,732.00 614.89,730.47 615.72,733.35 616.71,734.64 617.07,734.70 618.20,732.75 618.42,733.35 619.77,735.24 619.90,735.75 621.12,734.16 621.89,732.64 622.48,735.24 623.55,735.79 623.83,734.70 625.18,731.45 625.19,729.34 625.99,736.05 626.68,735.99 627.07,734.70 627.89,736.05 628.60,731.56 629.24,732.54 630.59,734.16 630.69,734.92 631.94,734.70 632.73,730.94 633.29,732.00 634.61,733.53 634.65,733.35 636.00,732.00 636.42,729.91 637.35,733.35 638.03,733.96 638.70,732.54 639.86,730.15 640.05,731.45 641.31,733.62 641.41,733.35 642.76,730.64 642.87,728.81 644.11,732.54 644.96,733.15 645.46,732.00 646.81,730.64 646.84,729.26 648.17,733.35 648.36,732.44 648.98,726.59 649.52,722.53 650.06,734.70" fill="none" stroke="#000" stroke-width="1.2" stroke-linejoin="round"/>
</svg>
</body></html>
